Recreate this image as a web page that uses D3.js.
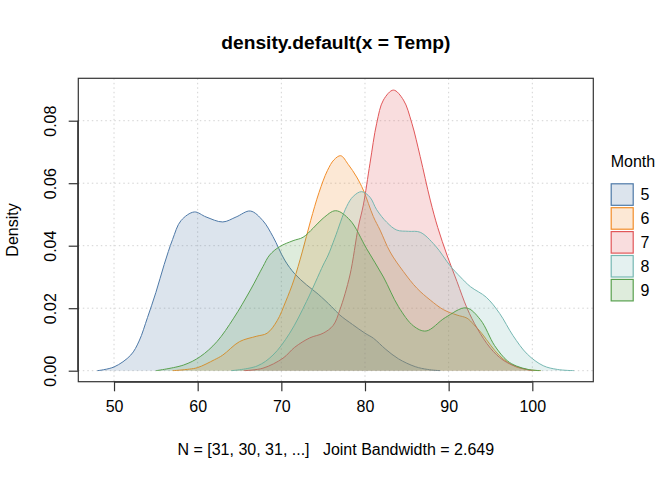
<!DOCTYPE html>
<html>
<head>
<meta charset="utf-8">
<script src="https://cdn.jsdelivr.net/npm/d3@7"></script>
<style>
  html, body { margin: 0; padding: 0; background: #fff; }
  text { font-family: "Liberation Sans", Arial, Helvetica, sans-serif; fill: #000; white-space: pre; }
</style>
</head>
<body>
<svg id="chart" width="672" height="480"></svg>
<script>
// ---- data ----
const months = ["5", "6", "7", "8", "9"];
const colors = ["#4E79A7", "#F28E2B", "#E15759", "#76B7B2", "#59A14F"];

const temp5 = [48, 50, 52, 53, 54, 55, 56, 57, 58, 59.6, 61, 63, 64.6, 66.3, 67.8, 69, 70.4, 71.6, 73, 74.4, 76, 77, 78.5, 80, 81, 82.5, 84, 86, 87.5, 89];
const dens5 = [0, 0.0012, 0.005, 0.0095, 0.017, 0.025, 0.034, 0.042, 0.048, 0.0508, 0.0492, 0.0476, 0.0492, 0.0511, 0.048, 0.0429, 0.0354, 0.031, 0.0275, 0.0245, 0.0205, 0.0178, 0.0148, 0.012, 0.0104, 0.0068, 0.0038, 0.0013, 0.0004, 0];

const temp6 = [57, 59, 60, 62, 63, 65, 67, 68.3, 69.5, 70.5, 71.5, 72.5, 73.5, 74.5, 75.5, 76.3, 77.1, 78, 79, 79.8, 81, 81.8, 83, 84.6, 86.2, 87.8, 89.4, 91, 92.2, 93, 94, 95, 96, 97, 98, 99.5, 101];
const dens6 = [0, 0.0005, 0.001, 0.0035, 0.005, 0.0093, 0.011, 0.012, 0.016, 0.022, 0.029, 0.038, 0.048, 0.057, 0.064, 0.0675, 0.0688, 0.066, 0.062, 0.0578, 0.0493, 0.045, 0.038, 0.0317, 0.0264, 0.0226, 0.0195, 0.0178, 0.0168, 0.0148, 0.0118, 0.0082, 0.005, 0.0028, 0.0013, 0.0003, 0];

const temp7 = [65.5, 67.8, 70.2, 71.6, 73.4, 75, 76.2, 77, 78.2, 79.2, 79.8, 80.6, 81.4, 82.2, 83.4, 84.6, 85.6, 86.6, 87.8, 88.7, 89.8, 91, 92.2, 93.4, 95, 96.5, 98.1, 100];
const dens7 = [0, 0.0008, 0.004, 0.0075, 0.0105, 0.012, 0.0145, 0.0195, 0.0306, 0.046, 0.053, 0.0664, 0.0792, 0.0866, 0.0898, 0.0866, 0.0792, 0.0685, 0.0546, 0.0458, 0.037, 0.0285, 0.02, 0.0136, 0.0072, 0.0034, 0.0013, 0];

const temp8 = [64, 67.1, 69, 71, 73, 75, 75.6, 76.4, 77.8, 78.6, 79.6, 80.6, 81.4, 82.6, 83.8, 85.2, 86.6, 88.4, 90.2, 91.4, 92.6, 94.5, 96.1, 97.7, 99.4, 101.3, 103, 105];
const dens8 = [0, 0.0015, 0.005, 0.012, 0.0221, 0.0338, 0.037, 0.0425, 0.0525, 0.0558, 0.0573, 0.0555, 0.0515, 0.0475, 0.045, 0.0446, 0.0443, 0.04, 0.0335, 0.03, 0.0269, 0.0235, 0.0183, 0.0112, 0.0053, 0.0016, 0.0004, 0];

const temp9 = [55, 58.3, 60.3, 62.3, 64.3, 66.3, 67.8, 68.6, 69.8, 71.4, 72.6, 73.8, 75, 76.5, 78.2, 80.2, 82.2, 84, 85.8, 87.3, 89.6, 92.1, 93.8, 95.5, 97, 98.1, 99.5, 101];
const dens9 = [0, 0.0018, 0.0045, 0.0093, 0.0168, 0.0258, 0.0333, 0.037, 0.0397, 0.0416, 0.0427, 0.0456, 0.0488, 0.0512, 0.0482, 0.039, 0.030, 0.0205, 0.0143, 0.0127, 0.017, 0.0201, 0.0163, 0.008, 0.0032, 0.0015, 0.0004, 0];

const xTicks = [50, 60, 70, 80, 90, 100];
const yTicks = [0, 0.02, 0.04, 0.06, 0.08];
const yTickLabels = ["0.00", "0.02", "0.04", "0.06", "0.08"];

const titleText = "density.default(x = Temp)";
const subText = "N = [31, 30, 31, ...]   Joint Bandwidth = 2.649";
const yLabel = "Density";
const legendTitle = "Month";

const temps = [temp5, temp6, temp7, temp8, temp9];
const dens = [dens5, dens6, dens7, dens8, dens9];

// ---- layout ----
const svg = d3.select("#chart");
const L = 78.3, R = 593.3, T = 78.3, B = 381.7;

const x = d3.scaleLinear().domain([45.73, 107.29]).range([L, R]);
const y = d3.scaleLinear().domain([-0.00352, 0.09357]).range([B, T]);

svg.append("rect").attr("width", 672).attr("height", 480).attr("fill", "#fff");

// grid
const grid = svg.append("g");
grid.selectAll("line.gx").data(xTicks).join("line")
  .attr("x1", d => x(d)).attr("x2", d => x(d))
  .attr("y1", T).attr("y2", B)
  .attr("stroke", "#d3d3d3").attr("stroke-width", 1).attr("stroke-dasharray", "1.5,3");
grid.selectAll("line.gy").data(yTicks).join("line")
  .attr("x1", L).attr("x2", R)
  .attr("y1", d => y(d)).attr("y2", d => y(d))
  .attr("stroke", "#d3d3d3").attr("stroke-width", 1).attr("stroke-dasharray", "1.5,3");

// densities
const curve = d3.curveCatmullRom.alpha(0.5);
const area = d3.area().x(d => x(d[0])).y0(y(0)).y1(d => y(Math.max(0, d[1]))).curve(curve);
const line = d3.line().x(d => x(d[0])).y(d => y(d[1])).curve(curve);

const clip = svg.append("clipPath").attr("id", "abovezero")
  .append("rect").attr("x", L).attr("y", T).attr("width", R - L).attr("height", y(0) - T + 0.6);

months.forEach((m, i) => {
  const pts = temps[i].map((t, j) => [t, dens[i][j]]);
  const g = svg.append("g").attr("clip-path", "url(#abovezero)");
  g.append("path").attr("d", area(pts))
    .attr("fill", colors[i]).attr("fill-opacity", 0.2).attr("stroke", "none");
  g.append("path").attr("d", line(pts))
    .attr("fill", "none").attr("stroke", colors[i]).attr("stroke-width", 1);
});

// box
svg.append("rect").attr("x", L).attr("y", T).attr("width", R - L).attr("height", B - T)
  .attr("fill", "none").attr("stroke", "#333").attr("stroke-width", 1.2);

// x axis
const xAxis = d3.axisBottom(x).tickValues(xTicks).tickSize(9.6).tickPadding(9).tickFormat(d3.format("d"));
const gx = svg.append("g").attr("transform", `translate(0,${B})`).call(xAxis);
gx.select(".domain").attr("d", `M${x(50)},0.5H${x(100)}`).attr("stroke", "#333").attr("stroke-width", 1.2);
gx.selectAll(".tick line").attr("stroke", "#333").attr("stroke-width", 1.2);
gx.selectAll(".tick text").attr("font-size", 16).attr("font-family", "Liberation Sans, Arial, sans-serif").attr("fill", "#000");

// y axis
const yAxis = d3.axisLeft(y).tickValues(yTicks).tickSize(9.6).tickFormat((d, i) => yTickLabels[i]);
const gy = svg.append("g").attr("transform", `translate(${L},0)`).call(yAxis);
gy.select(".domain").attr("d", `M-0.5,${y(0)}V${y(0.08)}`).attr("stroke", "#333").attr("stroke-width", 1.2);
gy.selectAll(".tick line").attr("stroke", "#333").attr("stroke-width", 1.2);
gy.selectAll(".tick text")
  .attr("font-size", 16).attr("font-family", "Liberation Sans, Arial, sans-serif").attr("fill", "#000")
  .attr("x", null).attr("dy", null)
  .attr("text-anchor", "middle").attr("dominant-baseline", "central")
  .attr("transform", "translate(-28,0) rotate(-90)");

// title, subtitle, y label
svg.append("text").attr("x", (L + R) / 2).attr("y", 48.5)
  .attr("text-anchor", "middle").attr("font-weight", "bold").attr("font-size", 19.2).text(titleText);
svg.append("text").attr("x", (L + R) / 2).attr("y", 455)
  .attr("text-anchor", "middle").attr("font-size", 16).attr("xml:space", "preserve").text(subText);
svg.append("text").attr("transform", `translate(12.5,${(T + B) / 2}) rotate(-90)`)
  .attr("text-anchor", "middle").attr("dominant-baseline", "central").attr("font-size", 16).text(yLabel);

// legend
const lg = svg.append("g");
lg.append("text").attr("x", 610.7).attr("y", 167).attr("font-size", 16).text(legendTitle);
months.forEach((m, i) => {
  const yy = 183.8 + i * 23.9;
  lg.append("rect").attr("x", 611.2).attr("y", yy).attr("width", 22).attr("height", 21.5)
    .attr("fill", colors[i]).attr("fill-opacity", 0.2)
    .attr("stroke", colors[i]).attr("stroke-width", 1.2);
  lg.append("text").attr("x", 640.5).attr("y", yy + 10.75).attr("dominant-baseline", "central")
    .attr("font-size", 16).text(m);
});
</script>
</body>
</html>
